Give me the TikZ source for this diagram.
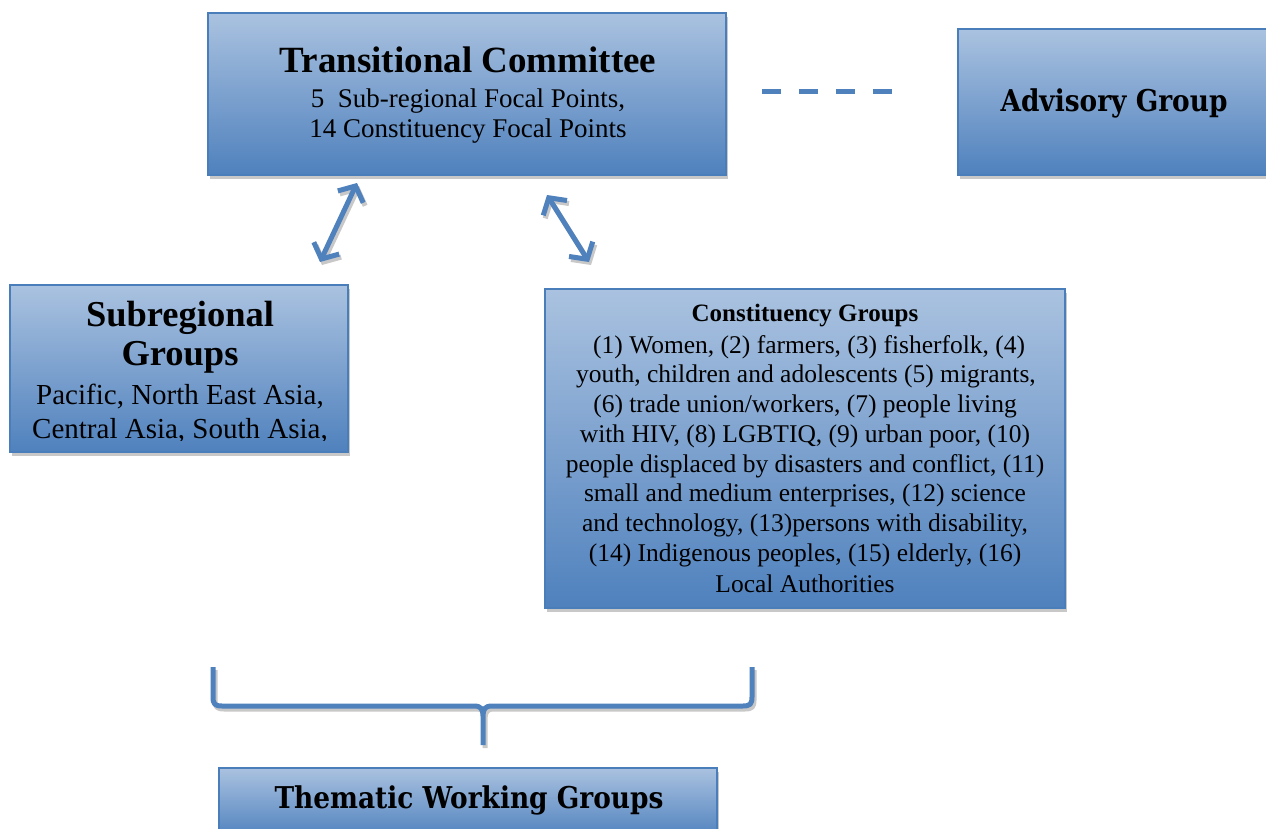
\documentclass[tikz,border=0pt]{standalone}
\usepackage{fontspec}
\setmainfont{Liberation Serif}
\newfontfamily\headfont[FakeStretch=0.88]{DejaVu Serif}
\usetikzlibrary{arrows.meta,shadows}
\definecolor{boxtop}{RGB}{170,194,224}
\definecolor{boxbot}{RGB}{79,129,189}
\definecolor{boxline}{RGB}{74,126,187}
\definecolor{shad}{RGB}{200,200,200}
\tikzset{
  box/.style={draw=boxline, line width=1.3pt, top color=boxtop, bottom color=boxbot,
    rectangle, inner sep=0pt,
    general shadow={fill=shad, shadow xshift=1.5pt, shadow yshift=-4pt}},
  txt/.style={inner sep=0pt, anchor=center, text=black},
  link/.style={draw=boxbot, line width=5pt},
  linkshadow/.style={draw=shad, line width=5pt},
  dbl/.style={{Straight Barb[length=12pt,width=28pt,line width=5pt]}-{Straight Barb[length=12pt,width=28pt,line width=5pt]}},
}
\begin{document}
\begin{tikzpicture}[x=1pt,y=-1pt]
\clip (0,0) rectangle (1266,829);
\fill[white] (0,0) rectangle (1266,829);

% Transitional Committee
\node[box, minimum width=518pt, minimum height=162pt] (tc) at (467,94) {};
\node[txt, font=\fontsize{37}{40}\selectfont\bfseries] (tct) at (468,60) {Transitional Committee};
\node[txt, font=\fontsize{27}{30}\selectfont] (tc1) at (468,101) {5\ \ Sub-regional Focal Points,};
\node[txt, font=\fontsize{27}{30}\selectfont] (tc2) at (468,131) {14 Constituency Focal Points};

% Advisory Group
\node[box, minimum width=314pt, minimum height=146pt] (ag) at (1115,102) {};
\node[txt, font=\fontsize{30}{32}\selectfont\headfont\bfseries] (agt) at (1114,103) {Advisory Group};

% Subregional Groups
\node[box, minimum width=338pt, minimum height=167pt] (sg) at (179,368.5) {};
\begin{scope}
\clip (11,286) rectangle (347,440.5);
\node[txt, font=\fontsize{36.5}{40}\selectfont\bfseries] (sgt1) at (180,318) {Subregional};
\node[txt, font=\fontsize{36.5}{40}\selectfont\bfseries] (sgt2) at (180,357) {Groups};
\node[txt, font=\fontsize{29}{32}\selectfont] (sg1) at (180,397) {Pacific, North East Asia,};
\node[txt, font=\fontsize{29}{32}\selectfont, anchor=base] (sg2) at (180,438) {Central Asia, South Asia,};
\end{scope}

% Constituency Groups
\node[box, minimum width=520pt, minimum height=319pt] (cg) at (805,448.5) {};
\node[txt, font=\fontsize{25}{28}\selectfont\bfseries] (cgt) at (805,316) {Constituency Groups};
\begin{scope}[every node/.style={txt, font=\fontsize{25.5}{28}\selectfont}]
\node (c1) at (806,347) {\ (1) Women, (2) farmers, (3) fisherfolk, (4)};
\node (c2) at (806,376) {youth, children and adolescents (5) migrants,};
\node (c3) at (805,406) {(6) trade union/workers, (7) people living};
\node (c4) at (805,436) {with HIV, (8) LGBTIQ, (9) urban poor, (10)};
\node (c5) at (805,466) {people displaced by disasters and conflict, (11)};
\node (c6) at (805,495) {small and medium enterprises, (12) science};
\node (c7) at (805,525) {and technology, (13)persons with disability,};
\node (c8) at (805,555) {(14) Indigenous peoples, (15) elderly, (16)};
\node (c9) at (805,584) {Local Authorities};
\end{scope}

% Thematic Working Groups
\node[box, minimum width=498pt, minimum height=70pt] (tw) at (468,803) {};
\node[txt, font=\fontsize{30}{32}\selectfont\headfont\bfseries] (twt) at (469,800) {Thematic Working Groups};

% dashed link
\coordinate (d1) at (762,92);
\coordinate (d2) at (893,92);
\draw[link, dash pattern=on 19pt off 18pt] (d1) -- (d2);

% arrows
\coordinate (a1) at (357,183);
\coordinate (a2) at (320,262);
\coordinate (b1) at (547,195);
\coordinate (b2) at (589,262);
\draw[linkshadow, dbl, transform canvas={xshift=2pt,yshift=-3pt}] (a1) -- (a2);
\draw[linkshadow, dbl, transform canvas={xshift=2pt,yshift=-3pt}] (b1) -- (b2);
\draw[link, dbl] (a1) -- (a2);
\draw[link, dbl] (b1) -- (b2);

% brace
\coordinate (bl) at (213,667);
\coordinate (br) at (752,667);
\coordinate (bm) at (483,745);
\def\bracepath{(bl) -- (213,697) .. controls (213,704) and (215,706) .. (222,706)
  -- (474,706) .. controls (481,706) and (483,709) .. (483,716) -- (bm)
  (483,716) .. controls (483,709) and (485,706) .. (492,706)
  -- (743,706) .. controls (750,706) and (752,704) .. (752,697) -- (br)}
\draw[linkshadow, line width=5pt, transform canvas={xshift=2pt,yshift=-3pt}] \bracepath;
\draw[link] \bracepath;
\end{tikzpicture}
\end{document}
